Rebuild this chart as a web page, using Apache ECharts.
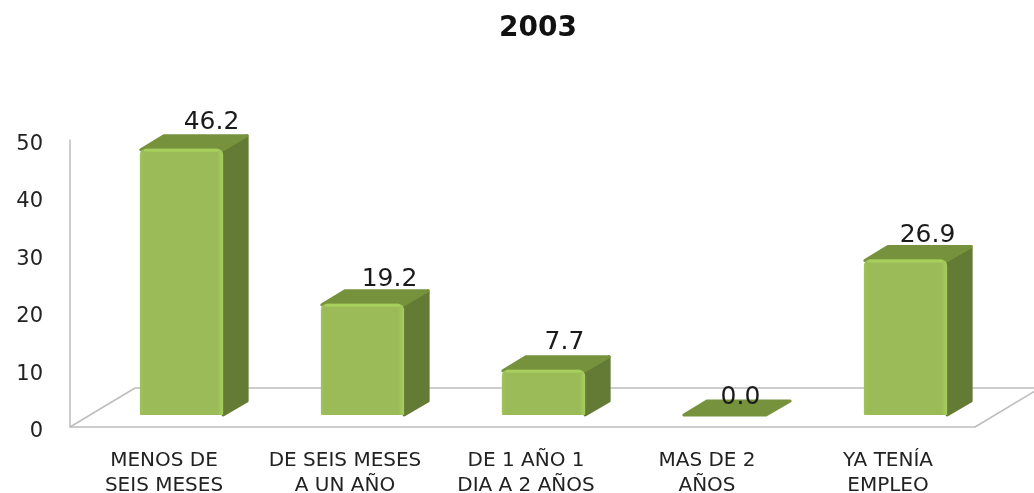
<!DOCTYPE html>
<html>
<head>
<meta charset="utf-8">
<title>2003</title>
<style>
html,body{margin:0;padding:0;background:#fff;}
#main{width:1034px;height:493px;}
</style>
<script src="https://cdn.jsdelivr.net/npm/echarts@6/dist/echarts.min.js"></script>
</head>
<body>
<div id="main"></div>
<script>
var titleText = '2003';
var categories = ['MENOS DE\nSEIS MESES', 'DE SEIS MESES\nA UN AÑO', 'DE 1 AÑO 1\nDIA A 2 AÑOS', 'MAS DE 2\nAÑOS', 'YA TENÍA\nEMPLEO'];
var values = [46.2, 19.2, 7.7, 0.0, 26.9];
var yTicks = [0, 10, 20, 30, 40, 50];

//ajuste manual de las etiquetas de cada barra
var labelNudgeX = [30, 27, 21, 16, 22];
var labelNudgeY = [-13, -11, -14, -4, -11];

var FONT = '"DejaVu Sans", sans-serif';
var myChart = echarts.init(document.getElementById('main'), null, {renderer: 'canvas'});

//suelo del grafico
function renderFloor(params, api){
	var g = params.coordSys;
	var x0 = g.x, x1 = g.x + g.width, y0 = g.y + g.height;
	var dx = 65, dy = -39;
	var line = {stroke: '#bdbdbd', lineWidth: 1.5, fill: null};
	return {
		type: 'group',
		children: [
			{type: 'line', shape: {x1: x0, y1: y0, x2: x0 + dx, y2: y0 + dy}, style: line},
			{type: 'line', shape: {x1: x0 + dx, y1: y0 + dy, x2: x1 + dx, y2: y0 + dy}, style: line},
			{type: 'line', shape: {x1: x1, y1: y0, x2: x1 + dx, y2: y0 + dy}, style: line}
		]
	};
}

//barra 3D: frente, lado y tapa
function renderBar(params, api){
	var idx = api.value(0), val = api.value(1);
	var band = api.size([1, 0])[0];
	var w = band * 0.46;
	var base = api.coord([idx, 0]);
	var top = api.coord([idx, val]);
	var xl = base[0] - w / 2 + 21, xr = xl + w;
	var yb = base[1] - 12, yt = top[1] - 12;
	var dx = 24, dy = -14;
	var label = {
		type: 'text',
		z2: 10,
		style: {
			text: val.toFixed(1),
			x: (xl + xr) / 2 + labelNudgeX[idx],
			y: yt + dy + labelNudgeY[idx],
			align: 'center',
			verticalAlign: 'middle',
			font: '25px ' + FONT,
			fill: '#1a1a1a'
		}
	};
	var topFace = {
		type: 'polygon',
		shape: {points: [[xl + 1, yt], [xl + dx, yt + dy], [xr + dx, yt + dy], [xr, yt]]},
		style: {fill: '#76923c', stroke: '#76923c', lineWidth: 3, lineJoin: 'round'}
	};
	if (val == 0) {
		return {type: 'group', children: [topFace, label]};
	}
	return {
		type: 'group',
		children: [
			{
				type: 'polygon',
				shape: {points: [[xr, yt], [xr + dx, yt + dy], [xr + dx, yb + dy], [xr, yb]]},
				style: {fill: '#647b36', stroke: '#647b36', lineWidth: 3, lineJoin: 'round'}
			},
			topFace,
			{
				type: 'rect',
				shape: {x: xl, y: yt - 1, width: w, height: yb - yt + 1, r: [6, 6, 1, 1]},
				style: {
					fill: {
						type: 'linear', x: 0, y: 0, x2: 1, y2: 0,
						colorStops: [
							{offset: 0, color: '#a0c35a'},
							{offset: 0.05, color: '#9bbb59'},
							{offset: 0.93, color: '#9bbb59'},
							{offset: 1, color: '#a6cf5c'}
						]
					}
				}
			},
			{
				type: 'rect',
				shape: {x: xl + 4, y: yt - 1, width: w - 8, height: 3, r: 1.5},
				style: {fill: '#a6cf5c'}
			},
			label
		]
	};
}

var seriesData = [];
for (var i = 0; i < values.length; i++) {
	seriesData.push([i, values[i]]);
}

var option = {
	animation: false,
	backgroundColor: '#fff',
	title: {
		text: titleText,
		left: 533,
		top: 10,
		textAlign: 'center',
		textStyle: {fontFamily: FONT, fontSize: 28, fontWeight: 'bold', color: '#111'}
	},
	grid: {left: 70, right: 59, top: 140, bottom: 66, outerBoundsMode: 'none'},
	xAxis: {
		type: 'category',
		data: categories,
		axisLine: {show: true, lineStyle: {color: '#bdbdbd', width: 1.5}},
		axisTick: {show: false},
		axisLabel: {
			interval: 0,
			margin: 21,
			padding: [0, 0, 0, 7],
			fontFamily: FONT,
			fontSize: 20,
			lineHeight: 25,
			color: '#222'
		}
	},
	yAxis: {
		type: 'value',
		min: yTicks[0],
		max: yTicks[yTicks.length - 1],
		interval: yTicks[1] - yTicks[0],
		splitLine: {show: false},
		axisTick: {show: false},
		axisLine: {show: true, lineStyle: {color: '#bdbdbd', width: 1.5}},
		axisLabel: {
			margin: 27,
			formatter: '{v|{value}}',
			rich: {
				v: {padding: [9, 0, 0, 0], fontFamily: FONT, fontSize: 21, color: '#222'}
			}
		}
	},
	series: [
		{
			type: 'custom',
			silent: true,
			clip: false,
			z: 1,
			data: [[0, 0]],
			encode: {x: 0, y: 1},
			renderItem: renderFloor
		},
		{
			type: 'custom',
			clip: false,
			z: 2,
			data: seriesData,
			encode: {x: 0, y: 1},
			renderItem: renderBar
		}
	]
};
myChart.setOption(option);
</script>
</body>
</html>
